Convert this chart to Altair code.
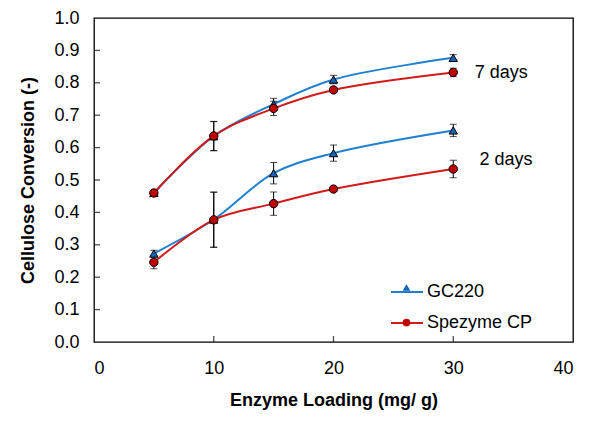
import altair as alt
import pandas as pd

loading = [5, 10, 15, 20, 30]

gc_7d = [0.460, 0.635, 0.734, 0.810, 0.877]
gc_7d_err = [0.008, 0.045, 0.018, 0.013, 0.010]
sp_7d = [0.460, 0.636, 0.721, 0.778, 0.832]
sp_7d_err = [0.008, 0.045, 0.022, 0.008, 0.013]

gc_2d = [0.273, 0.378, 0.521, 0.583, 0.653]
gc_2d_err = [0.010, 0.085, 0.033, 0.025, 0.019]
sp_2d = [0.246, 0.377, 0.427, 0.472, 0.534]
sp_2d_err = [0.020, 0.085, 0.036, 0.006, 0.027]

enzymes = ["GC220", "Spezyme CP"]
marker_keys = ["m_GC220", "m_Spezyme CP"]
line_colors = ["#1f7fd0", "#d21a1a"]
fill_colors = ["#1565b8", "#c00000"]
shapes = ["triangle-up", "circle"]

notes = ["7 days", "2 days"]
note_x = [34.0, 34.4]
note_y = [0.829, 0.563]

x_ticks = [0, 10, 20, 30, 40]
y_ticks = [0.0, 0.1, 0.2, 0.3, 0.4, 0.5, 0.6, 0.7, 0.8, 0.9, 1.0]

FONT = "Liberation Sans"

rows = []
for enz, days, vals, errs in [
    ("GC220", "7", gc_7d, gc_7d_err),
    ("Spezyme CP", "7", sp_7d, sp_7d_err),
    ("GC220", "2", gc_2d, gc_2d_err),
    ("Spezyme CP", "2", sp_2d, sp_2d_err),
]:
    for x, v, e in zip(loading, vals, errs):
        rows.append({"enzyme": enz, "mk": "m_" + enz, "days": days, "series": enz + days,
                     "loading": x, "value": v, "lo": v - e, "hi": v + e,
                     "order": 0 if enz == "GC220" else 1})
df = pd.DataFrame(rows)
notes_df = pd.DataFrame({"label": notes, "x": note_x, "y": note_y})
xt_df = pd.DataFrame({"v": x_ticks[1:-1]})
yt_df = pd.DataFrame({"v": y_ticks[1:-1]})

xs = alt.Scale(domain=[0, 40], nice=False)
ys = alt.Scale(domain=[0, 1.0], nice=False)

xax = alt.Axis(title="Enzyme Loading (mg/ g)", values=x_ticks, format="d",
               labelPadding=17, titlePadding=14, ticks=False)
yax = alt.Axis(title="Cellulose Conversion (-)", values=y_ticks, format=".1f",
               labelPadding=15, titlePadding=16, ticks=False)


def X(field):
    return alt.X(field, type="quantitative", scale=xs, axis=xax)


def Y(field):
    return alt.Y(field, type="quantitative", scale=ys, axis=yax)


base = alt.Chart(df)

# inward tick marks along the left and bottom axes, placed through the scales
y_tick_marks = alt.Chart(yt_df).mark_tick(color="black", thickness=1.3, size=6,
                                          orient="horizontal", xOffset=3).encode(
    x=alt.X(datum=0, type="quantitative", scale=xs, axis=xax), y=Y("v")
)
x_tick_marks = alt.Chart(xt_df).mark_tick(color="black", thickness=1.3, size=6,
                                          orient="vertical", yOffset=-3).encode(
    x=X("v"), y=alt.Y(datum=0, type="quantitative", scale=ys, axis=yax)
)

lines = base.mark_line(interpolate="catmull-rom", strokeWidth=2).encode(
    x=X("loading"),
    y=Y("value"),
    detail="series:N",
    order=alt.Order("loading:Q"),
    stroke=alt.Stroke("enzyme:N", scale=alt.Scale(domain=enzymes, range=line_colors),
                      legend=alt.Legend(title=None, orient="none", legendX=296, legendY=257,
                                        symbolType="stroke", symbolSize=1024, symbolStrokeWidth=2,
                                        labelFont=FONT, labelFontSize=18, labelColor="black",
                                        labelOffset=3, rowPadding=5, zindex=1)),
)

err = base.mark_rule(color="black", strokeWidth=1).encode(
    x=X("loading"), y=Y("lo"), y2="hi:Q"
)
cap_lo = base.mark_tick(color="black", thickness=1, size=7, orient="horizontal").encode(
    x=X("loading"), y=Y("lo")
)
cap_hi = base.mark_tick(color="black", thickness=1, size=7, orient="horizontal").encode(
    x=X("loading"), y=Y("hi")
)

marker_shape = alt.Shape("mk:N", scale=alt.Scale(domain=marker_keys, range=shapes),
                         legend=alt.Legend(title=None, orient="none", legendX=308, legendY=265,
                                           symbolSize=60, symbolStrokeColor="black",
                                           symbolStrokeWidth=1, labelExpr="''",
                                           labelFontSize=8, rowPadding=23, zindex=2))
marker_fill = alt.Fill("mk:N", scale=alt.Scale(domain=marker_keys, range=fill_colors))

points = base.mark_point(filled=True, stroke="black", strokeWidth=1, opacity=1, size=70).encode(
    x=X("loading"),
    y=Y("value"),
    shape=marker_shape,
    fill=marker_fill,
    order=alt.Order("order:Q"),
)

text = alt.Chart(notes_df).mark_text(font=FONT, fontSize=18, color="black", align="center",
                                     baseline="middle").encode(
    x=X("x"), y=Y("y"), text="label:N"
)

chart = alt.layer(y_tick_marks, x_tick_marks, lines, err, cap_lo, cap_hi, points, text).properties(
    width=479, height=324,
    padding={"left": 86, "top": 10, "right": 19, "bottom": 82},
    autosize=alt.AutoSizeParams(type="none"),
    background="white",
).configure_view(
    stroke="black", strokeWidth=1.3
).configure_axis(
    grid=False, domain=False,
    labelFont=FONT, labelFontSize=18, labelColor="black",
    titleFont=FONT, titleFontSize=18, titleFontWeight="bold", titleColor="black",
)

chart.save("out.html", embed_options={"renderer": "svg", "actions": False})
